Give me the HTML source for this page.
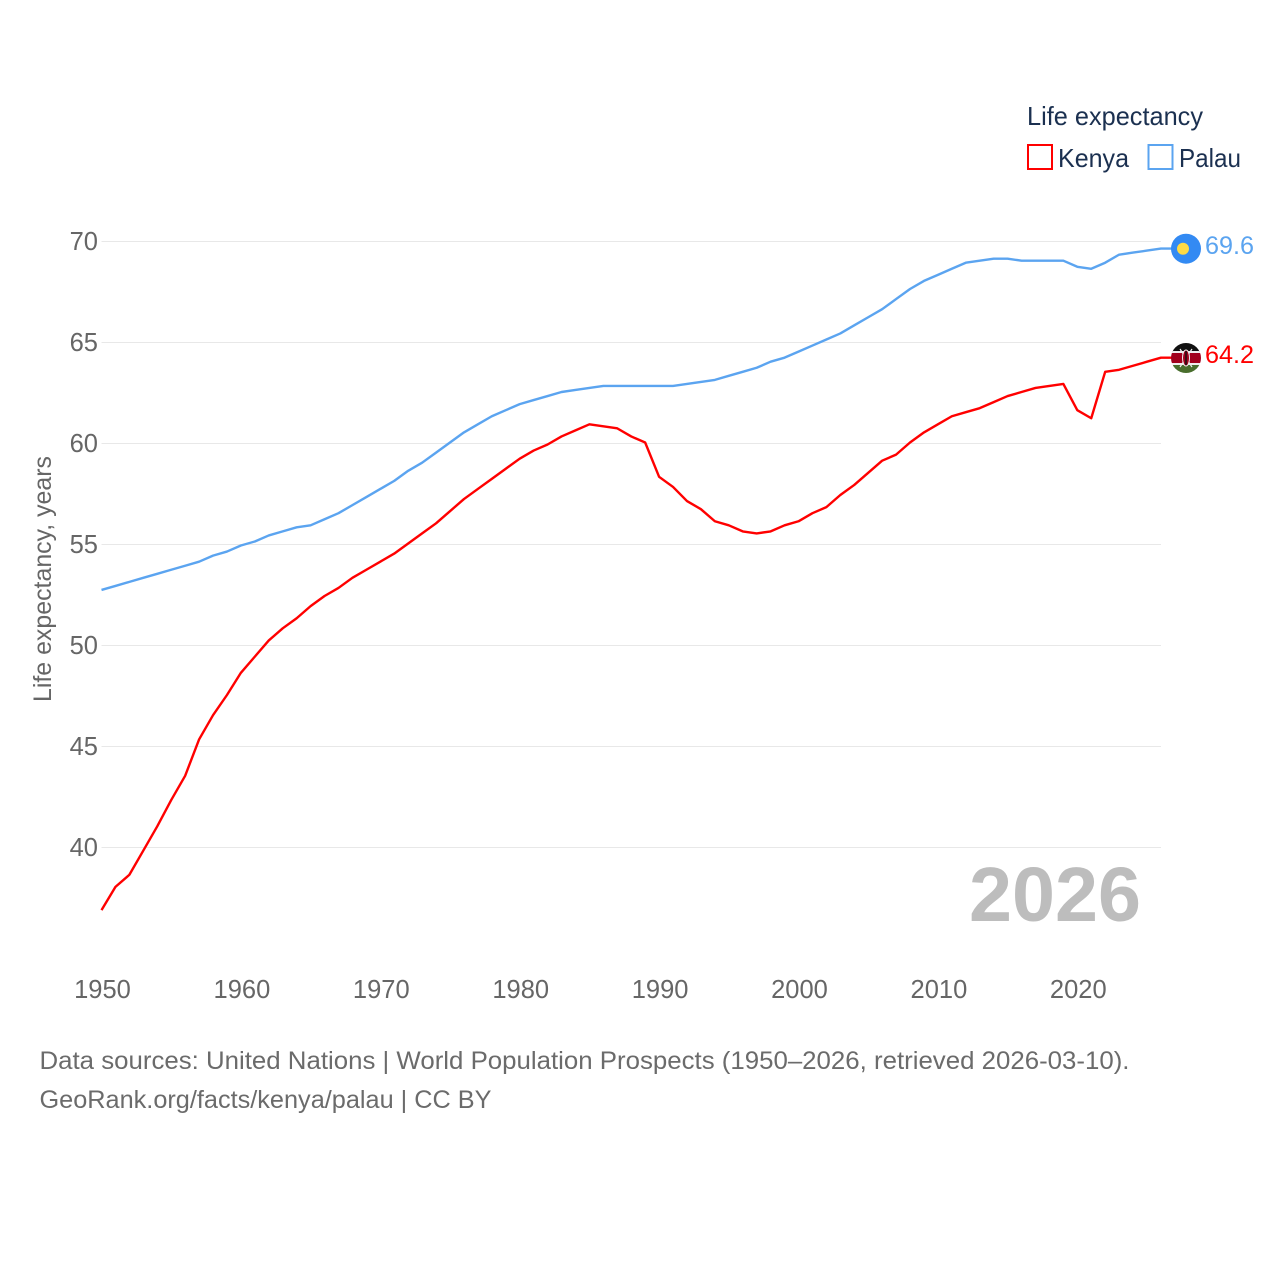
<!DOCTYPE html>
<html lang="en">
<head>
<meta charset="utf-8">
<title>Life expectancy: Kenya and Palau</title>
<style>
html,body{margin:0;padding:0;background:#fff;}
svg{display:block;font-family:"Liberation Sans",sans-serif;}
</style>
</head>
<body>
<svg id="chart" xmlns="http://www.w3.org/2000/svg" width="1280" height="1280" viewBox="0 0 1280 1280">
  <defs>
    <clipPath id="flag-clip-palau"><circle cx="1186" cy="248.7" r="15"/></clipPath>
    <clipPath id="flag-clip-kenya"><circle cx="1186" cy="358" r="15"/></clipPath>
  </defs>
  <rect width="1280" height="1280" fill="#fff"/>
  <g id="grid"></g>
  <g id="y-ticks"></g>
  <g id="x-ticks"></g>
  <text transform="translate(51,579) rotate(-90)" text-anchor="middle" font-size="25" fill="#666" textLength="246" lengthAdjust="spacingAndGlyphs">Life expectancy, years</text>
  <text x="969" y="921" font-size="77" font-weight="700" fill="#bdbdbd" textLength="172" lengthAdjust="spacingAndGlyphs">2026</text>
  <g id="series"></g>
  <g clip-path="url(#flag-clip-palau)">
    <rect x="1170" y="232" width="32" height="32" fill="#338af3"/>
    <circle cx="1183" cy="248.7" r="6" fill="#ffda44"/>
  </g>
  <g clip-path="url(#flag-clip-kenya)">
    <rect x="1170" y="342" width="32" height="10" fill="#111"/>
    <rect x="1170" y="351" width="32" height="2" fill="#eee"/>
    <rect x="1170" y="353" width="32" height="10" fill="#a2001d"/>
    <rect x="1170" y="363" width="32" height="2" fill="#eee"/>
    <rect x="1170" y="365" width="32" height="9" fill="#496e2d"/>
    <path d="M1180 349 L1192 367 M1192 349 L1180 367" stroke="#eee" stroke-width="1.2" fill="none"/>
    <ellipse cx="1186" cy="358" rx="3.5" ry="8" fill="#a2001d" stroke="#eee" stroke-width="1"/>
    <rect x="1185.3" y="351" width="1.4" height="14" fill="#111"/>
  </g>
  <text id="palau-value" x="1205" y="254" font-size="25" fill="#5ba4f0" textLength="49" lengthAdjust="spacingAndGlyphs">69.6</text>
  <text id="kenya-value" x="1205" y="363" font-size="25" fill="#ff0000" textLength="49" lengthAdjust="spacingAndGlyphs">64.2</text>
  <g>
    <text x="1027" y="125" font-size="26" fill="#1b3050" textLength="176" lengthAdjust="spacingAndGlyphs">Life expectancy</text>
    <rect x="1028" y="145" width="24" height="24" fill="#fff" stroke="#ff0000" stroke-width="2"/>
    <text x="1058" y="167" font-size="26" fill="#1b3050" textLength="71" lengthAdjust="spacingAndGlyphs">Kenya</text>
    <rect x="1148.500" y="145" width="24" height="24" fill="#fff" stroke="#5ba4f0" stroke-width="2"/>
    <text x="1179" y="167" font-size="26" fill="#1b3050" textLength="62" lengthAdjust="spacingAndGlyphs">Palau</text>
  </g>
  <text x="39.500" y="1069" font-size="25" fill="#6b6b6b" textLength="1090" lengthAdjust="spacingAndGlyphs">Data sources: United Nations | World Population Prospects (1950–2026, retrieved 2026-03-10).</text>
  <text x="39.500" y="1108" font-size="25" fill="#6b6b6b" textLength="452" lengthAdjust="spacingAndGlyphs">GeoRank.org/facts/kenya/palau | CC BY</text>
</svg>
<script>
const startYear = 1950;
const kenyaValues = [36.85,38.0,38.6,39.8,41.0,42.3,43.5,45.3,46.5,47.5,48.6,49.4,50.2,50.8,51.3,51.9,52.4,52.8,53.3,53.7,54.1,54.5,55.0,55.5,56.0,56.6,57.2,57.7,58.2,58.7,59.2,59.6,59.9,60.3,60.6,60.9,60.8,60.7,60.3,60.0,58.3,57.8,57.1,56.7,56.1,55.9,55.6,55.5,55.6,55.9,56.1,56.5,56.8,57.4,57.9,58.5,59.1,59.4,60.0,60.5,60.9,61.3,61.5,61.7,62.0,62.3,62.5,62.7,62.8,62.9,61.6,61.2,63.5,63.6,63.8,64.0,64.2];
const palauValues = [52.7,52.9,53.1,53.3,53.5,53.7,53.9,54.1,54.4,54.6,54.9,55.1,55.4,55.6,55.8,55.9,56.2,56.5,56.9,57.3,57.7,58.1,58.6,59.0,59.5,60.0,60.5,60.9,61.3,61.6,61.9,62.1,62.3,62.5,62.6,62.7,62.8,62.8,62.8,62.8,62.8,62.8,62.9,63.0,63.1,63.3,63.5,63.7,64.0,64.2,64.5,64.8,65.1,65.4,65.8,66.2,66.6,67.1,67.6,68.0,68.3,68.6,68.9,69.0,69.1,69.1,69.0,69.0,69.0,69.0,68.7,68.6,68.9,69.3,69.4,69.5,69.6];
const yTickValues = [40,45,50,55,60,65,70];
const xTickYears = [1950,1960,1970,1980,1990,2000,2010,2020];

const NS = 'http://www.w3.org/2000/svg';
function xScale(year){ return 101.5 + (year - 1950) * 13.94; }
function yScale(v){ return 846.5 - (v - 40) * 20.2; }
function make(tag, parent, attrs, text){
  const el = document.createElementNS(NS, tag);
  for (const k in attrs) el.setAttribute(k, attrs[k]);
  if (text !== undefined) el.textContent = text;
  parent.appendChild(el);
  return el;
}
const grid = document.getElementById('grid');
const yTicks = document.getElementById('y-ticks');
const xTicks = document.getElementById('x-ticks');
const series = document.getElementById('series');

yTickValues.forEach(function(v){
  const line = make('line', grid, {x1:101.5, x2:1161, y1:yScale(v)+1, y2:yScale(v)+1, stroke:'#e8e8e8', 'stroke-width':1});
  
  
  const label = make('text', yTicks, {x:98, y:yScale(v)+9.5, 'text-anchor':'end', 'font-size':25.5, fill:'#666'}, String(v));
  
  
});
xTickYears.forEach(function(year){
  const label = make('text', xTicks, {x:xScale(year)+1, y:998, 'text-anchor':'middle', 'font-size':25.5, fill:'#666'}, String(year));
  
  
});
function drawSeries(values, color){
  const pts = values.map(function(v, i){ return xScale(startYear + i).toFixed(2) + ',' + yScale(v).toFixed(2); });
  const lastY = yScale(values[values.length - 1]).toFixed(2);
  pts.push('1172,' + lastY);
  return make('polyline', series, {points:pts.join(' '), fill:'none', stroke:color, 'stroke-width':2.4, 'stroke-linejoin':'round'});
}
const kenyaLine = drawSeries(kenyaValues, '#ff0000');


const palauLine = drawSeries(palauValues, '#5ba4f0');


</script>
</body>
</html>
